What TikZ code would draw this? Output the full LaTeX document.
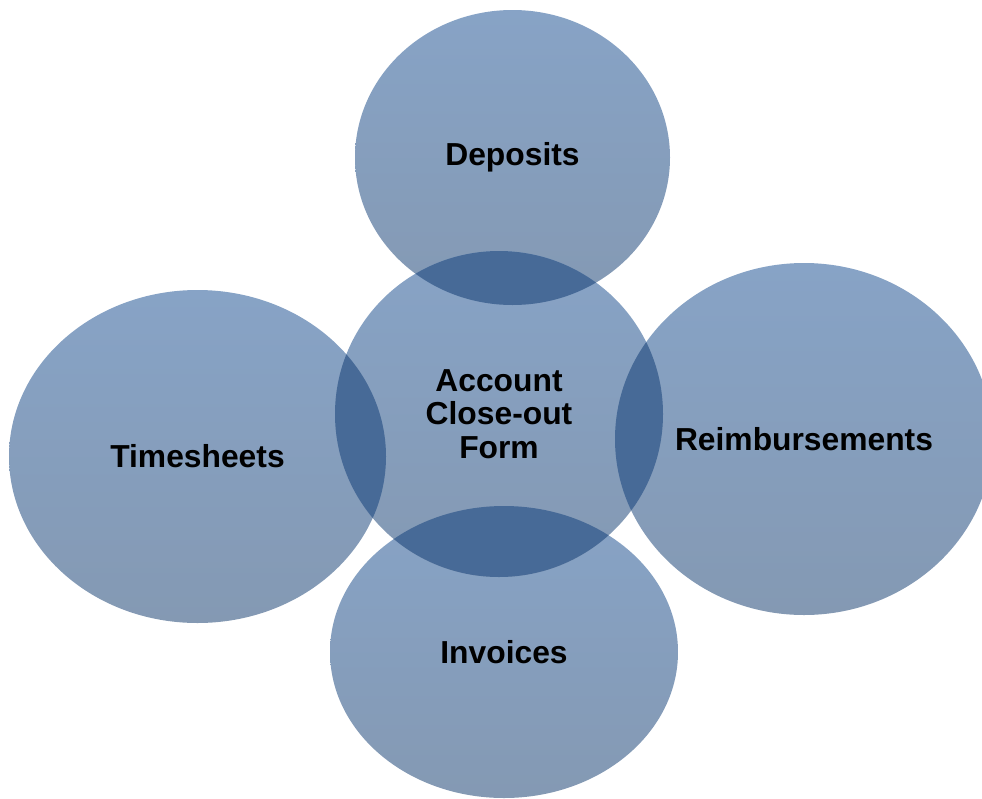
\documentclass[tikz,border=0pt]{standalone}
\usepackage{fontspec}
\setmainfont{Liberation Sans}
\usetikzlibrary{shapes.geometric}
\definecolor{bubtop}{HTML}{87A3C6}
\definecolor{bubbot}{HTML}{8499B3}
\definecolor{overlap}{HTML}{476A97}
\tikzset{
  bubble/.style={ellipse, inner sep=0pt, draw=none, top color=bubtop, bottom color=bubbot},
  lbl/.style={font=\bfseries\fontsize{31.8}{33.5}\selectfont, text=black, align=center, inner sep=0pt},
  ov/.style={fill=overlap}
}
\begin{document}
\begin{tikzpicture}[x=1pt,y=-1pt]
\useasboundingbox (0,0) rectangle (982,798);
% bubbles
\node[bubble, minimum width=315pt, minimum height=295pt] (dep) at (512.5,157.5) {};
\node[bubble, minimum width=377pt, minimum height=333pt] (tim) at (197.5,456.5) {};
\node[bubble, minimum width=378pt, minimum height=352pt] (rei) at (804,439) {};
\node[bubble, minimum width=348pt, minimum height=292pt] (inv) at (504,652) {};
\node[bubble, minimum width=328pt, minimum height=326pt] (ctr) at (499,414) {};
% overlaps
\begin{scope}
  \clip (499,414) ellipse [x radius=164, y radius=163];
  \fill[ov] (512.5,157.5) ellipse [x radius=157.5, y radius=147.5];
  \fill[ov] (197.5,456.5) ellipse [x radius=188.5, y radius=166.5];
  \fill[ov] (804,439) ellipse [x radius=189, y radius=176];
  \fill[ov] (504,652) ellipse [x radius=174, y radius=146];
\end{scope}
% labels
\node[lbl] (depl) at (dep.center) {Deposits};
\node[lbl] (timl) at (tim.center) {Timesheets};
\node[lbl] (reil) at (rei.center) {Reimbursements};
\node[lbl] (invl) at (inv.center) {Invoices};
\node[lbl] (ctrl) at (ctr.center) {Account\\Close-out\\Form};
\end{tikzpicture}
\end{document}
